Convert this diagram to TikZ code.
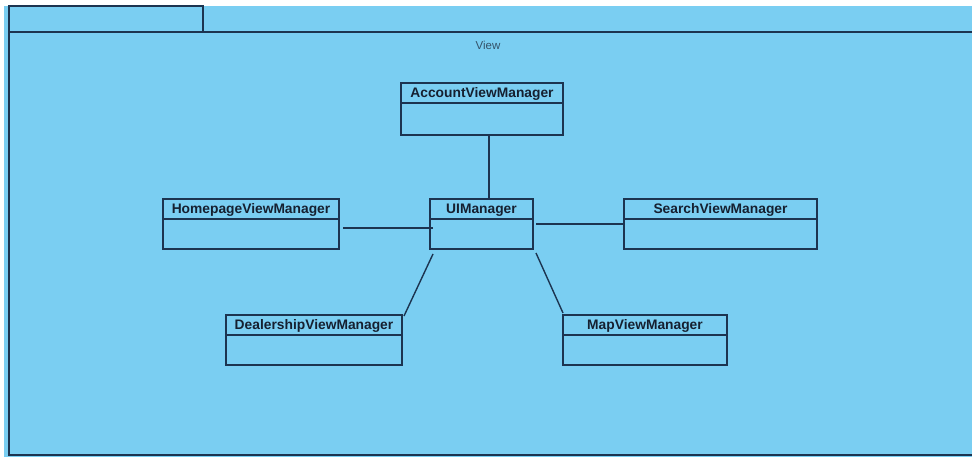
\documentclass[tikz,border=0pt]{standalone}
\usepackage{fontspec}
\setmainfont{Liberation Sans}
\usepackage{tikz}
\usetikzlibrary{positioning, calc}
\definecolor{pkgblue}{RGB}{122,206,242}
\definecolor{linenavy}{RGB}{28,52,80}
\definecolor{textnavy}{RGB}{22,32,48}
\definecolor{labelgray}{RGB}{52,82,104}
\tikzstyle{class_head} = [rectangle, anchor=north west, minimum height=20pt, inner sep=0pt, outer sep=0pt, text height=9.9pt, text depth=0pt, text centered, draw=linenavy, line width=1.4pt, text=textnavy, font=\fontsize{13.8}{16}\selectfont\bfseries]
\tikzstyle{class_body} = [rectangle, minimum height=30pt, inner sep=0pt, outer sep=0pt, draw=linenavy, line width=1.4pt]
\tikzstyle{link} = [draw=linenavy, line width=1.4pt]

\begin{document}
\begin{tikzpicture}[x=1pt, y=-1pt]
        \useasboundingbox (0,0) rectangle (972,457);
        \fill[white] (0,0) rectangle (972,457);

        % package View
        \fill[pkgblue] (4,6) rectangle (972,457);
        \draw[link] (203,32) -- (203,6) -- (9,6) -- (9,455) -- (972,455);
        \draw[link] (9,32) -- (972,32);
        \node(view_label) [text=labelgray, font=\fontsize{11.5}{13}\selectfont] at (488,45) {View};

        % classes
        \node(account) [class_head, minimum width=162pt] at (401,83) {AccountViewManager};
        \node(account_body) [class_body, minimum width=162pt, minimum height=32pt, below=0pt of account] {};

        \node(home) [class_head, minimum width=176pt] at (163,199) {HomepageViewManager};
        \node(home_body) [class_body, minimum width=176pt, below=0pt of home] {};

        \node(ui) [class_head, minimum width=103pt] at (430,199) {UIManager};
        \node(ui_body) [class_body, minimum width=103pt, below=0pt of ui] {};

        \node(search) [class_head, minimum width=193pt] at (624,199) {SearchViewManager};
        \node(search_body) [class_body, minimum width=193pt, below=0pt of search] {};

        \node(dealer) [class_head, minimum width=176pt] at (226,315) {DealershipViewManager};
        \node(dealer_body) [class_body, minimum width=176pt, below=0pt of dealer] {};

        \node(map) [class_head, minimum width=164pt] at (563,315) {MapViewManager};
        \node(map_body) [class_body, minimum width=164pt, below=0pt of map] {};

        % associations
        \draw[link] ($(account_body.south)+(7,0)$) -- ($(ui.north)+(7.5,0)$);
        \draw[link] ($(home_body.east)+(4,-6)$) -- ($(ui_body.west)+(3,-6)$);
        \draw[link] ($(ui_body.east)+(3,-10)$) -- ($(search_body.west)+(0,-10)$);
        \draw[link] ($(ui_body.south west)+(3,5)$) -- ($(dealer.north east)+(2,1)$);
        \draw[link] ($(ui_body.south east)+(3,4)$) -- ($(map.north west)+(0,-2)$);
    \end{tikzpicture}
\end{document}
